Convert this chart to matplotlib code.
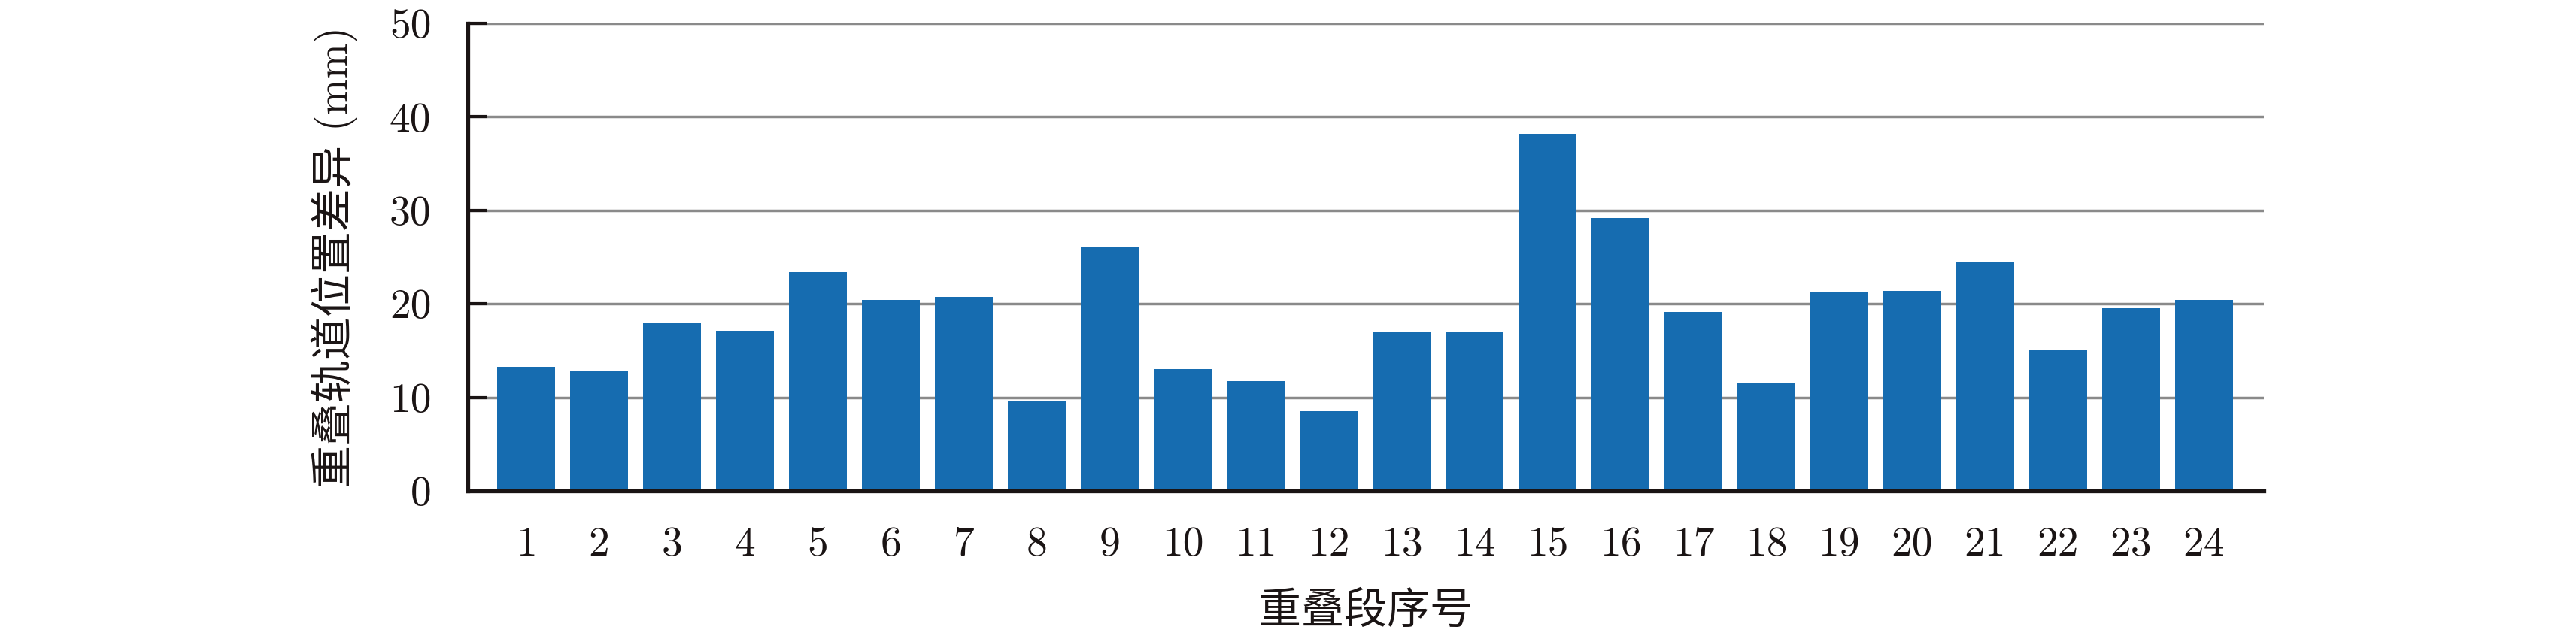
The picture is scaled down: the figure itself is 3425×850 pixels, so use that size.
import matplotlib
matplotlib.use("Agg")
import matplotlib.pyplot as plt

segments = list(range(1, 25))
values = [13.3, 12.8, 18.0, 17.1, 23.4, 20.4, 20.7, 9.6, 26.1, 13.0, 11.7, 8.5,
          17.0, 17.0, 38.2, 29.2, 19.1, 11.5, 21.2, 21.4, 24.5, 15.1, 19.5, 20.4]
yticks = [0, 10, 20, 30, 40, 50]
xlabel = "重叠段序号"
ylabel = "重叠轨道位置差异 (mm)"

W, H = 3425, 850
fig = plt.figure(figsize=(W / 100, H / 100), dpi=100)
ax = fig.add_axes([622 / W, 1 - 653 / H, (3010 - 622) / W, (653 - 31) / H])

ax.bar(segments, values, width=0.8, color="#166CB0", zorder=3)
ax.set_xlim(0.2, 24.82)
ax.set_ylim(0, 50)
ax.set_yticks(yticks)
ax.set_xticks(segments)
ax.yaxis.grid(True, color="#8a8a8a", linewidth=2.5, zorder=0)
ax.set_axisbelow(True)

for s in ["top", "right"]:
    ax.spines[s].set_visible(False)
for s in ["left", "bottom"]:
    ax.spines[s].set_linewidth(3.8)
    ax.spines[s].set_color("#1a1414")
    ax.spines[s].set_zorder(4)

ax.tick_params(axis="y", direction="in", length=18, width=3, pad=35, colors="#1a1414")
ax.tick_params(axis="x", length=0, pad=34, colors="#1a1414")
for lab in ax.get_xticklabels() + ax.get_yticklabels():
    lab.set_fontfamily("cmr10")
    lab.set_fontsize(40)

fam = ["cmr10", "Noto Sans CJK SC"]
ax.set_xlabel(xlabel, fontsize=41, family=["Noto Sans CJK SC"], labelpad=24, color="#1a1414")
ax.set_ylabel(ylabel, fontsize=41, family=fam, labelpad=30, color="#1a1414")

fig.savefig("out.png", dpi=100, facecolor="white")
